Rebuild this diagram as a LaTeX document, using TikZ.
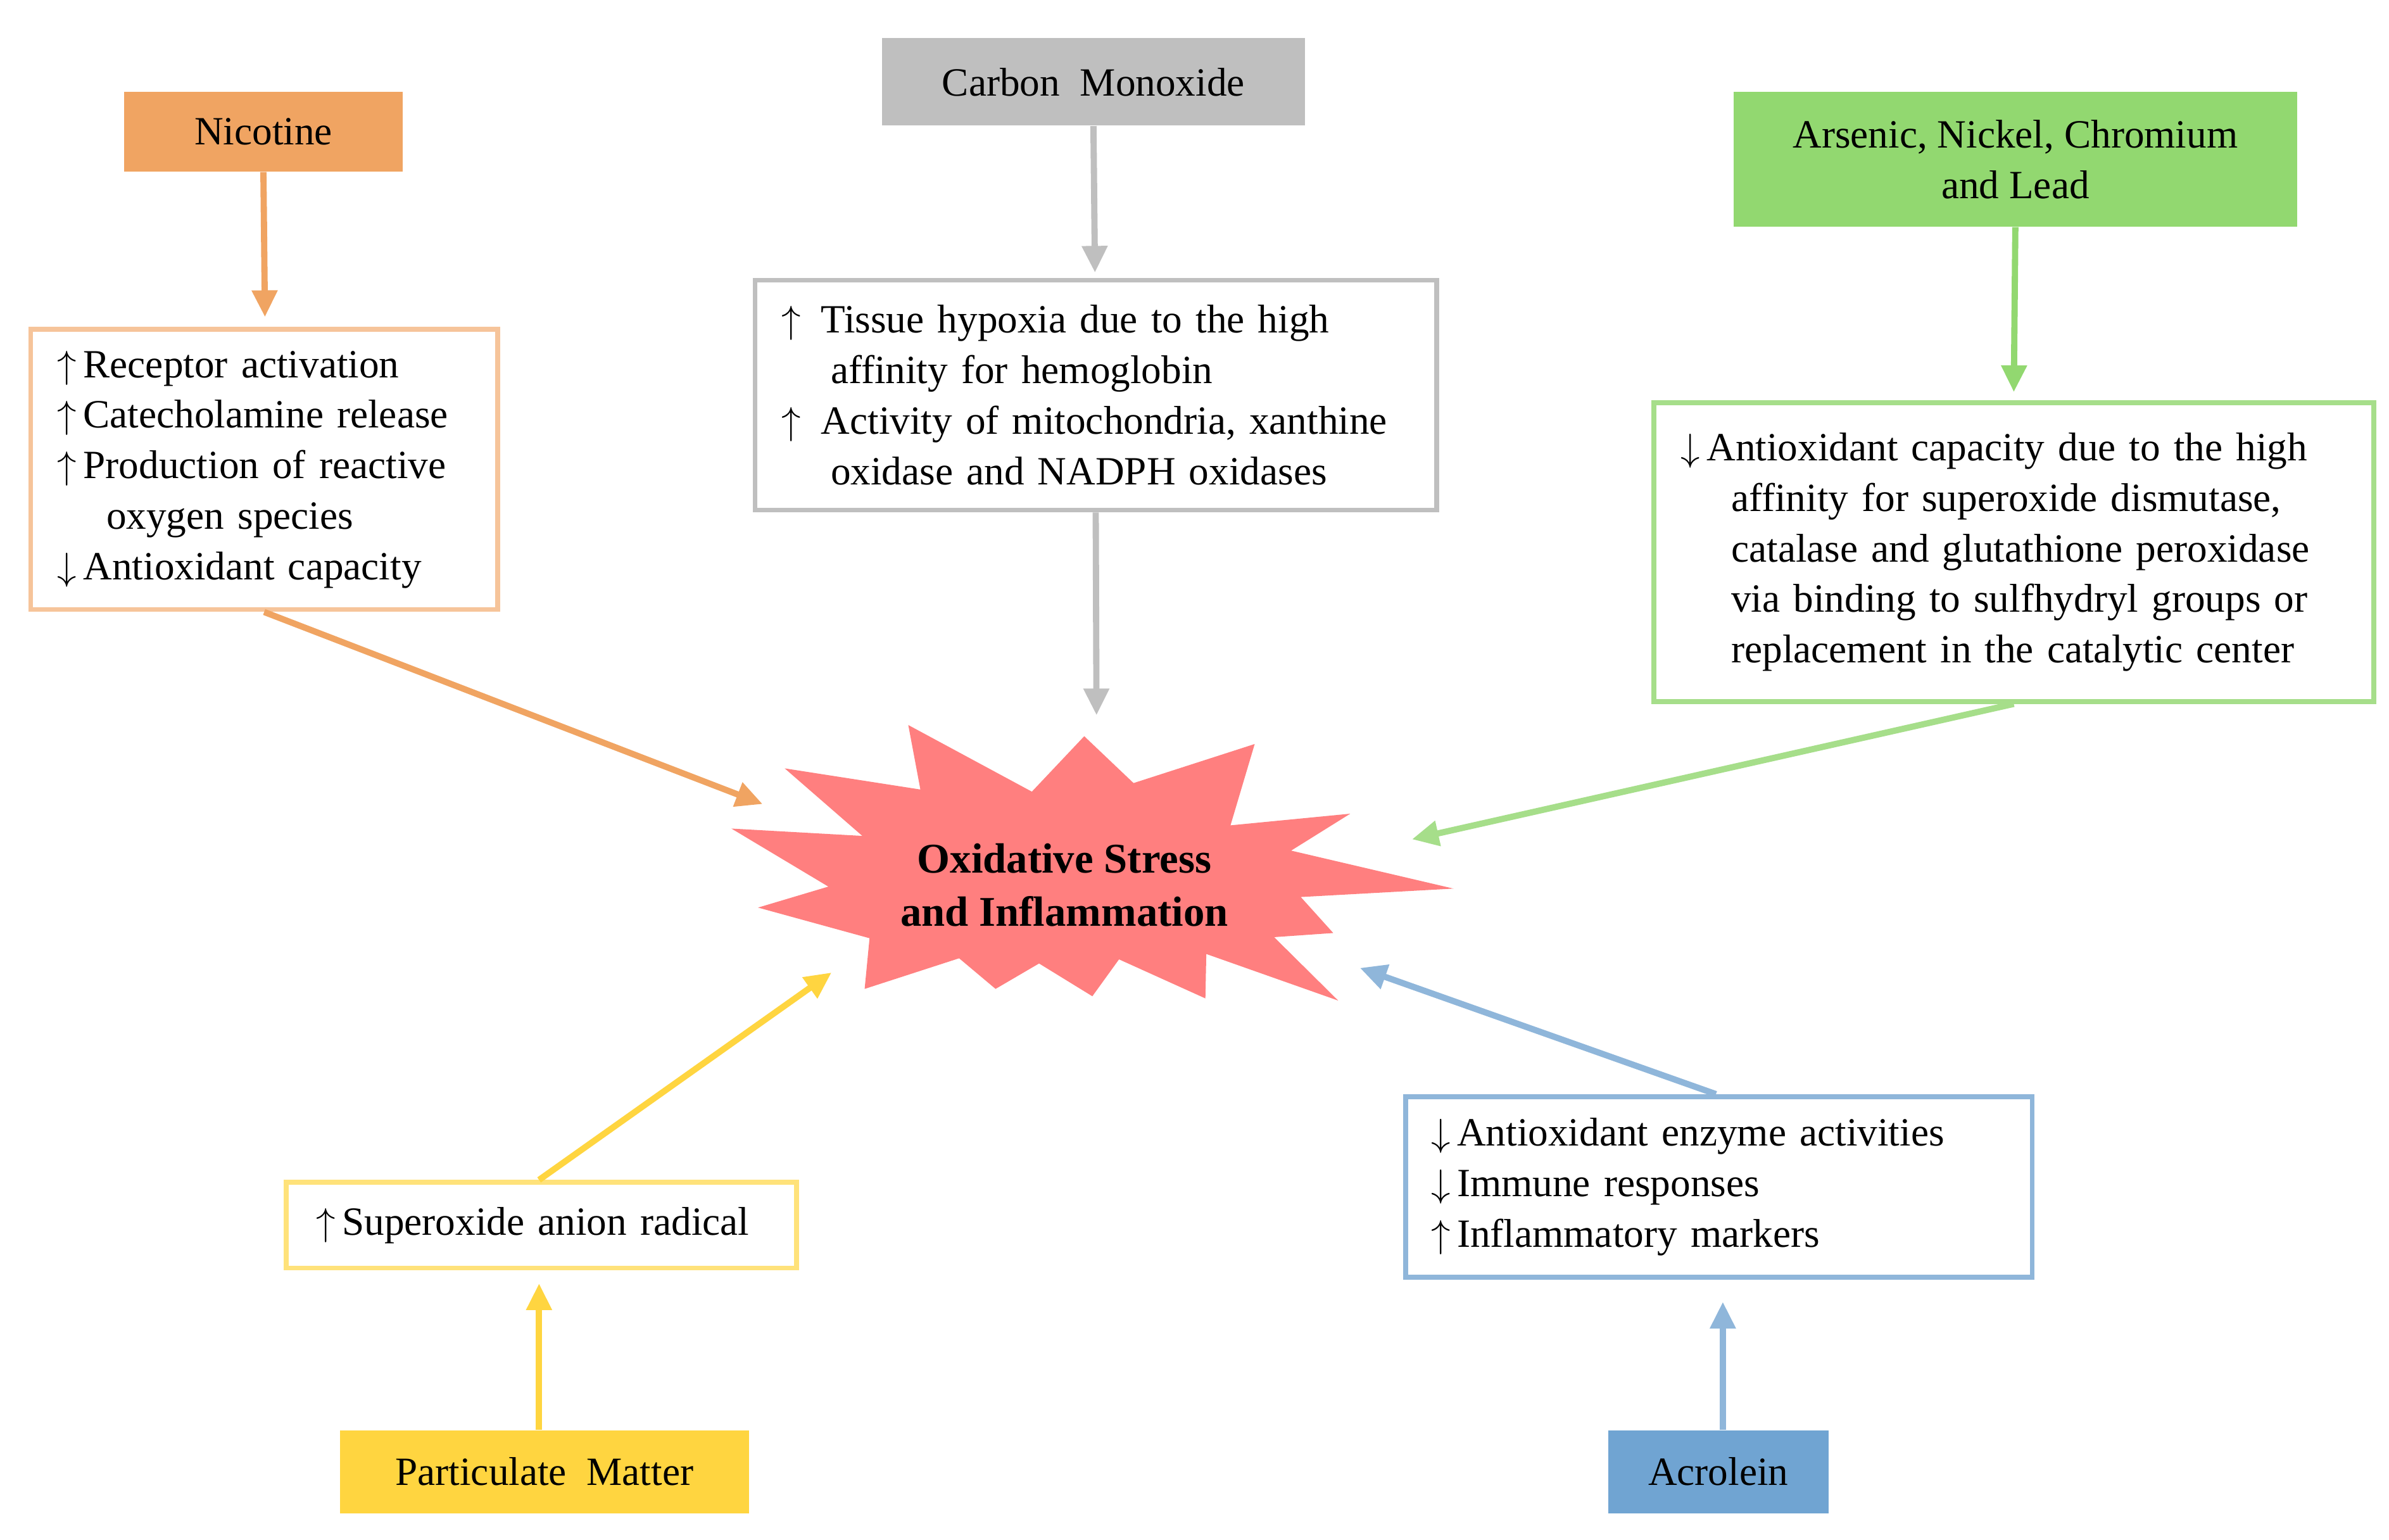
\documentclass[tikz,border=0pt]{standalone}
\usepackage{fontspec}
\setmainfont{Liberation Serif}
\usetikzlibrary{arrows.meta}
\newdimen\pxu \pxu=0.024186cm
\newcommand\jl[2]{\makebox[#1\pxu][s]{#2}}
\newcommand\up{$\uparrow$\,}
\newcommand\dn{$\downarrow$\,}
\definecolor{cNic}{HTML}{F0A462}
\definecolor{cNicL}{HTML}{F6C49A}
\definecolor{cCO}{HTML}{BFBFBF}
\definecolor{cCOL}{HTML}{BFBFBF}
\definecolor{cAs}{HTML}{92D870}
\definecolor{cAsL}{HTML}{A6DE8A}
\definecolor{cPM}{HTML}{FFD540}
\definecolor{cPML}{HTML}{FFE27A}
\definecolor{cAc}{HTML}{70A4D2}
\definecolor{cAcL}{HTML}{8FB6DA}
\definecolor{cStar}{HTML}{FF7F7F}
\begin{document}
\begin{tikzpicture}[x=0.024186cm,y=-0.024186cm,
  every node/.style={font=\fontsize{18}{22.7}\selectfont},
  title/.style={inner sep=0pt,align=center},
  tbox/.style={draw,line width=2.2pt,inner sep=0pt,align=left},
  arr/.style={line width=2.8pt,-{Triangle[length=12pt,width=11pt]},shorten >=0pt}]
\useasboundingbox (0,0) rectangle (1560,1005.5);
% source boxes
\node[title,fill=cNic,minimum width=182\pxu,minimum height=52\pxu] (nic) at (172,86) {Nicotine};
\node[title,fill=cCO,minimum width=276\pxu,minimum height=57\pxu] (co) at (714,53.5) {Carbon\ \ Monoxide};
\node[title,fill=cAs,minimum width=368\pxu,minimum height=88\pxu] (as) at (1316,104) {Arsenic,\ Nickel,\ Chromium\\and Lead};
\node[title,fill=cPM,minimum width=267\pxu,minimum height=54\pxu] (pm) at (355.5,961) {Particulate\ \ Matter};
\node[title,fill=cAc,minimum width=144\pxu,minimum height=54\pxu] (ac) at (1122,961) {Acrolein};
% effect boxes
\node[tbox,draw=cNicL,minimum width=305\pxu,minimum height=183\pxu,text width=290\pxu] (nicb) at (172.5,306.5) {%
\hspace*{10\pxu}\up Receptor activation\\
\hspace*{10\pxu}\up Catecholamine release\\
\hspace*{10\pxu}\jl{275}{\up Production of reactive}\\
\hspace*{42\pxu}oxygen species\\
\hspace*{10\pxu}\dn Antioxidant capacity};
\node[tbox,draw=cCOL,minimum width=445\pxu,minimum height=150\pxu,text width=430\pxu] (cob) at (715.5,258) {%
\hspace*{10\pxu}\jl{414}{\up\ Tissue hypoxia due to the high}\\
\hspace*{42\pxu}affinity for hemoglobin\\
\hspace*{10\pxu}\jl{414}{\up\ Activity of mitochondria, xanthine}\\
\hspace*{42\pxu}oxidase and NADPH oxidases};
\node[tbox,draw=cAsL,minimum width=470\pxu,minimum height=195\pxu,text width=455\pxu] (asb) at (1315,360.5) {%
\hspace*{10\pxu}\jl{437}{\dn Antioxidant capacity due to the high}\\
\hspace*{43\pxu}\jl{404}{affinity for superoxide dismutase,}\\
\hspace*{43\pxu}\jl{404}{catalase and glutathione peroxidase}\\
\hspace*{43\pxu}\jl{404}{via binding to sulfhydryl groups or}\\
\hspace*{43\pxu}replacement in the catalytic center};
\node[tbox,draw=cPML,minimum width=333\pxu,minimum height=56\pxu,text width=318\pxu] (pmb) at (353.5,800) {%
\hspace*{12\pxu}\up Superoxide anion radical};
\node[tbox,draw=cAcL,minimum width=409\pxu,minimum height=118\pxu,text width=394\pxu] (acb) at (1122.5,775) {%
\hspace*{9\pxu}\dn Antioxidant enzyme activities\\
\hspace*{9\pxu}\dn Immune responses\\
\hspace*{9\pxu}\up Inflammatory markers};
% star
\fill[cStar] (593.1,473.4)--(673.8,516.9)--(708.0,480.7)--(740.2,511.3)--(819.3,485.8)--(803.5,538.9)--(881.7,531.3)--(843.1,555.4)--(949.1,580.2)--(849.4,585.7)--(870.6,609.2)--(832.0,611.9)--(873.8,653.3)--(787.7,622.9)--(787.1,651.9)--(730.7,626.4)--(713.3,650.5)--(678.5,629.1)--(650.1,645.7)--(626.3,625.7)--(564.6,645.7)--(567.8,612.6)--(495.0,592.6)--(540.9,578.9)--(477.6,541.0)--(563.1,545.8)--(512.4,501.7)--(601.0,515.5)--cycle;
\node[font=\fontsize{19}{24}\selectfont\bfseries,align=center,inner sep=0pt] (st) at (695,578) {Oxidative Stress\\and Inflammation};
\coordinate (tNic) at (173,207);
\coordinate (tCO) at (715,178);
\coordinate (tAs) at (1315,256);
\coordinate (tPM) at (352,838);
\coordinate (tAc) at (1125,850);
\coordinate (sNic) at (498,525);
\coordinate (sCO) at (716,467);
\coordinate (sAs) at (922,548);
\coordinate (sPM) at (543,635);
\coordinate (sAc) at (888,632);
% arrows
\draw[arr,draw=cNic] (nic.south) -- (tNic);
\draw[arr,draw=cCO] (co.south) -- (tCO);
\draw[arr,draw=cAs] (as.south) -- (tAs);
\draw[arr,draw=cPM] (pm.north -| tPM) -- (tPM);
\draw[arr,draw=cAcL] (ac.north -| tAc) -- (tAc);
\draw[arr,draw=cNic] (nicb.south) -- (sNic);
\draw[arr,draw=cCO] (cob.south) -- (sCO);
\draw[arr,draw=cAsL] (asb.south) -- (sAs);
\draw[arr,draw=cPM] (pmb.north -| tPM) -- (sPM);
\draw[arr,draw=cAcL] ([xshift=-2\pxu]acb.north) -- (sAc);
\end{tikzpicture}
\end{document}
